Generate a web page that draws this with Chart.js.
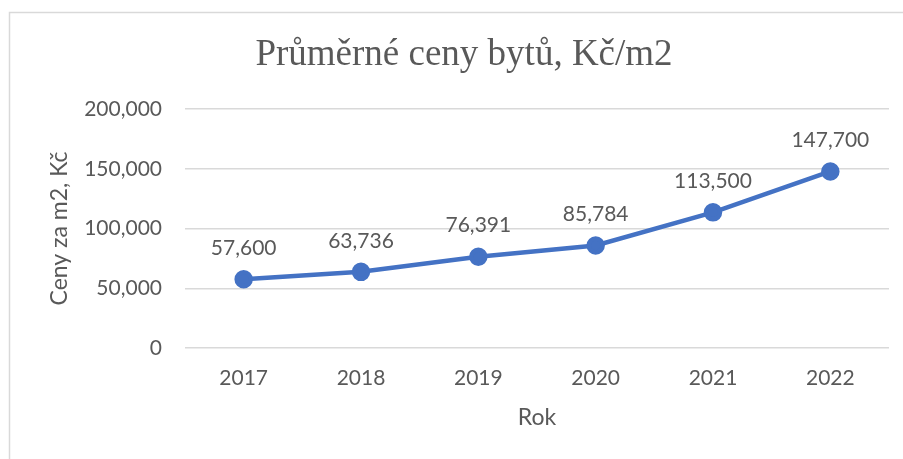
<!DOCTYPE html>
<html>
<head>
<meta charset="utf-8">
<script src="https://cdn.jsdelivr.net/npm/chart.js@4.4.1/dist/chart.umd.min.js"></script>
<style>
html,body{margin:0;padding:0;background:#fff;}
canvas{display:block;}
</style>
</head>
<body>
<canvas id="c" width="903" height="459"></canvas>
<script>
const categories = ['2017','2018','2019','2020','2021','2022'];
const prices = [57600, 63736, 76391, 85784, 113500, 147700];
const yTicks = [0, 50000, 100000, 150000, 200000];
const chartTitle = 'Průměrné ceny bytů, Kč/m2';
const xTitle = 'Rok';
const yTitle = 'Ceny za m2, Kč';

const TEXT = '#595959';
const SANS = 'Lato, "Noto Sans", sans-serif';
const fmt = v => v.toLocaleString('en-US');

const framePlugin = {
  id: 'frame',
  beforeDraw(chart) {
    const ctx = chart.ctx;
    ctx.save();
    ctx.fillStyle = '#fff';
    ctx.fillRect(0, 0, chart.width, chart.height);
    ctx.strokeStyle = '#d9d9d9';
    ctx.lineWidth = 1.5;
    ctx.beginPath();
    ctx.moveTo(9.5, chart.height);
    ctx.lineTo(9.5, 12.5);
    ctx.lineTo(chart.width, 12.5);
    ctx.stroke();
    ctx.fillStyle = TEXT;
    ctx.font = '37px "Liberation Serif", "Times New Roman", serif';
    ctx.textAlign = 'center';
    ctx.textBaseline = 'alphabetic';
    ctx.fillText(chartTitle, 464, 65);
    // y axis title
    const a = chart.chartArea;
    ctx.font = '23px ' + SANS;
    ctx.textBaseline = 'middle';
    ctx.translate(60, (a.top + a.bottom) / 2);
    ctx.rotate(-Math.PI / 2);
    ctx.fillText(yTitle, 0, 0);
    ctx.restore();
  }
};

const labelPlugin = {
  id: 'pointLabels',
  afterDatasetsDraw(chart) {
    const ctx = chart.ctx;
    const meta = chart.getDatasetMeta(0);
    ctx.save();
    ctx.fillStyle = TEXT;
    ctx.font = '21px ' + SANS;
    ctx.textAlign = 'center';
    ctx.textBaseline = 'middle';
    meta.data.forEach((pt, i) => {
      ctx.fillText(fmt(chart.data.datasets[0].data[i]), pt.x, pt.y - 31);
    });
    ctx.restore();
  }
};

new Chart(document.getElementById('c'), {
  type: 'line',
  data: {
    labels: categories,
    datasets: [{
      data: prices,
      borderColor: '#4472C4',
      backgroundColor: '#4472C4',
      borderWidth: 4.5,
      pointRadius: 7,
      pointHoverRadius: 7,
      pointBackgroundColor: '#4472C4',
      pointBorderColor: '#4472C4',
      tension: 0,
      fill: false
    }]
  },
  options: {
    responsive: false,
    animation: false,
    layout: { padding: { top: 109, right: 14, left: 0, bottom: 0 } },
    plugins: {
      legend: { display: false },
      title: { display: false },
      tooltip: { enabled: false }
    },
    scales: {
      x: {
        offset: true,
        grid: { display: false, drawTicks: false },
        border: { display: false },
        ticks: { color: TEXT, font: { family: SANS, size: 21 }, padding: 18 },
        title: { display: true, text: xTitle, color: TEXT, font: { family: SANS, size: 23 }, padding: { top: 0, bottom: 28 } },
        afterFit(scale) { scale.height = 111; }
      },
      y: {
        min: 0,
        max: 200000,
        afterBuildTicks(scale) { scale.ticks = yTicks.map(v => ({ value: v })); },
        grid: { color: '#d9d9d9', lineWidth: 1.5, drawTicks: false },
        border: { display: false },
        ticks: { color: TEXT, font: { family: SANS, size: 21 }, padding: 23, callback: v => fmt(v) },
        title: { display: false },
        afterFit(scale) { scale.width = 185; }
      }
    }
  },
  plugins: [framePlugin, labelPlugin]
});
</script>
</body>
</html>
